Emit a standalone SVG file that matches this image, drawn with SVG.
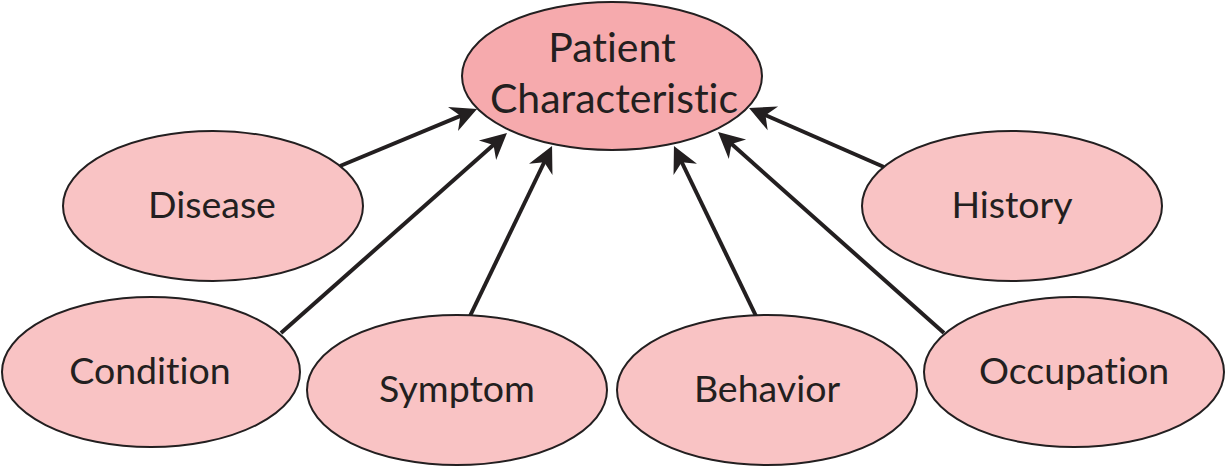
<svg xmlns="http://www.w3.org/2000/svg" width="1226" height="467" viewBox="0 0 1226 467">
<style>
.node ellipse{fill:#f9c3c4;stroke:#231f20;stroke-width:2}
#patient ellipse{fill:#f6aaad}
text{font-family:Lato,"Liberation Sans",sans-serif;font-size:37.5px;fill:#231f20;text-anchor:middle;font-variant-ligatures:none;font-feature-settings:"liga" 0}
#patient text{font-size:41px}
.edge{stroke:#231f20;stroke-width:4;fill:none;marker-end:url(#arr)}
</style>
<defs>
<marker id="arr" viewBox="-22 -16 36 32" refX="0" refY="0" markerWidth="36" markerHeight="32" markerUnits="userSpaceOnUse" orient="auto" overflow="visible">
<path d="M10,0 L-16,-13 L-8,0 L-16,13 Z" fill="#231f20"/>
</marker>
</defs>
<rect width="1226" height="467" fill="#fff"/>
<g id="connectors">
<line class="edge" x1="340" y1="166" x2="467.8" y2="112.8"/>
<line class="edge" x1="281" y1="333" x2="499.5" y2="139.6"/>
<line class="edge" x1="470" y1="316" x2="547.7" y2="155"/>
<line class="edge" x1="756" y1="316" x2="678.3" y2="155"/>
<line class="edge" x1="944" y1="333" x2="725.5" y2="138.6"/>
<line class="edge" x1="884" y1="167" x2="758.2" y2="112"/>
</g>
<g id="patient" class="node"><ellipse cx="612" cy="76" rx="150" ry="74"/><text x="612" y="62">Patient</text><text x="614" y="113">Characteristic</text></g>
<g id="disease" class="node"><ellipse cx="213" cy="206" rx="150" ry="75"/><text x="212" y="218">Disease</text></g>
<g id="history" class="node"><ellipse cx="1012" cy="206" rx="150" ry="75"/><text x="1012" y="218">History</text></g>
<g id="condition" class="node"><ellipse cx="151" cy="372" rx="149" ry="75"/><text x="150" y="384">Condition</text></g>
<g id="symptom" class="node"><ellipse cx="457" cy="390" rx="150" ry="75"/><text x="457" y="402">Symptom</text></g>
<g id="behavior" class="node"><ellipse cx="767" cy="390" rx="150" ry="75"/><text x="767" y="402">Behavior</text></g>
<g id="occupation" class="node"><ellipse cx="1074" cy="372" rx="150" ry="75"/><text x="1074" y="384">Occupation</text></g>
</svg>
